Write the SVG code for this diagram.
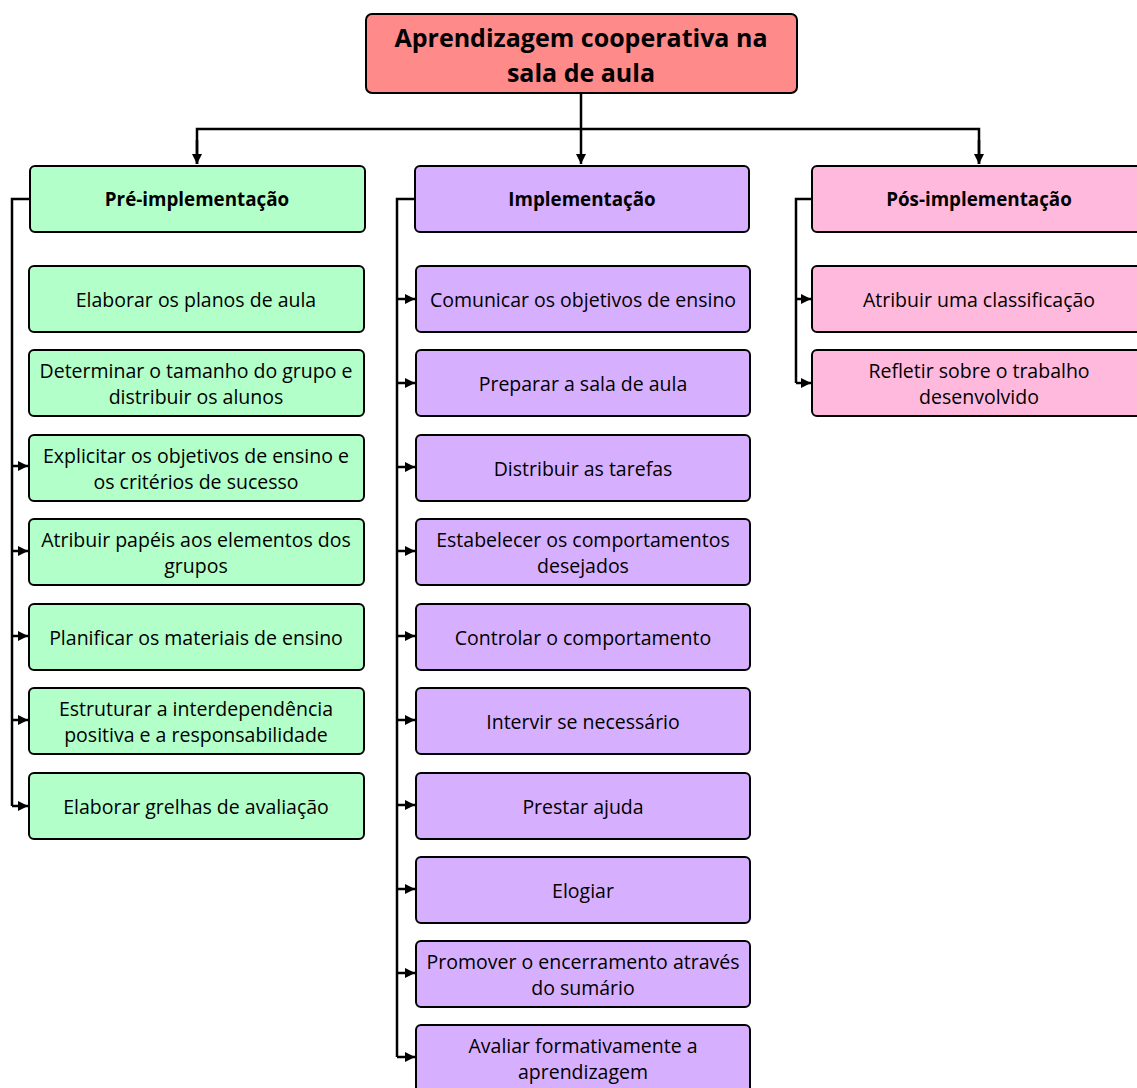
<svg xmlns="http://www.w3.org/2000/svg" width="1137" height="1088" viewBox="0 0 1137 1088">
<style>
.box{stroke:#000;stroke-width:2}
.root{fill:#FF8A8A}
.g{fill:#B3FFC9}
.p{fill:#D6AFFF}
.k{fill:#FFB9DC}
text{font-family:"Open Sans","Liberation Sans",sans-serif;fill:#000;text-anchor:middle;dominant-baseline:central}
.t{font-size:19.5px}
.h{font-size:18.8px;font-weight:bold}
.r{font-size:25px;font-weight:bold}
.c{fill:none;stroke:#000;stroke-width:2.5}
</style>
<defs>
<marker id="a" viewBox="0 0 10 10" refX="10" refY="5" markerWidth="4" markerHeight="4" orient="auto" markerUnits="strokeWidth">
<path d="M0,0 L10,5 L0,10 z" fill="#000"/>
</marker>
</defs>
<g id="connectors">
<path class="c" d="M581,93 V164" marker-end="url(#a)"/>
<path class="c" d="M197,164 V129 H979 V164" />
<path class="c" d="M197,140 V164" marker-end="url(#a)"/>
<path class="c" d="M979,140 V164" marker-end="url(#a)"/>
<path class="c" d="M30,199 H12 V806"/>
<path class="c" d="M12,466 H28" marker-end="url(#a)"/>
<path class="c" d="M12,551 H28" marker-end="url(#a)"/>
<path class="c" d="M12,636 H28" marker-end="url(#a)"/>
<path class="c" d="M12,720 H28" marker-end="url(#a)"/>
<path class="c" d="M12,806 H28" marker-end="url(#a)"/>
<path class="c" d="M415,199 H397 V1057"/>
<path class="c" d="M397,299 H415" marker-end="url(#a)"/>
<path class="c" d="M397,383 H415" marker-end="url(#a)"/>
<path class="c" d="M397,467 H415" marker-end="url(#a)"/>
<path class="c" d="M397,551 H415" marker-end="url(#a)"/>
<path class="c" d="M397,636 H415" marker-end="url(#a)"/>
<path class="c" d="M397,720 H415" marker-end="url(#a)"/>
<path class="c" d="M397,805 H415" marker-end="url(#a)"/>
<path class="c" d="M397,889 H415" marker-end="url(#a)"/>
<path class="c" d="M397,973 H415" marker-end="url(#a)"/>
<path class="c" d="M397,1057 H415" marker-end="url(#a)"/>
<path class="c" d="M812,199 H796 V383"/>
<path class="c" d="M796,299 H811" marker-end="url(#a)"/>
<path class="c" d="M796,383 H811" marker-end="url(#a)"/>
</g>
<g id="root"><rect class="box root" x="366" y="14" width="431" height="79" rx="6"/><text class="r" x="581" y="37">Aprendizagem cooperativa na</text><text class="r" x="581" y="72">sala de aula</text></g>
<g id="pre"><rect class="box g" x="30" y="166" width="335" height="66" rx="5"/><text class="h" x="197" y="199">Pré-implementação</text></g>
<g id="impl"><rect class="box p" x="415" y="166" width="334" height="66" rx="5"/><text class="h" x="582" y="199">Implementação</text></g>
<g id="pos"><rect class="box k" x="812" y="166" width="335" height="66" rx="5"/><text class="h" x="979" y="199">Pós-implementação</text></g>

<g id="pre1"><rect class="box g" x="29" y="266" width="335" height="66" rx="5"/><text class="t" x="196" y="299">Elaborar os planos de aula</text></g>
<g id="pre2"><rect class="box g" x="29" y="350" width="335" height="66" rx="5"/><text class="t" x="196" y="370">Determinar o tamanho do grupo e</text><text class="t" x="196" y="396">distribuir os alunos</text></g>
<g id="pre3"><rect class="box g" x="29" y="435" width="335" height="66" rx="5"/><text class="t" x="196" y="455">Explicitar os objetivos de ensino e</text><text class="t" x="196" y="481">os critérios de sucesso</text></g>
<g id="pre4"><rect class="box g" x="29" y="519" width="335" height="66" rx="5"/><text class="t" x="196" y="539">Atribuir papéis aos elementos dos</text><text class="t" x="196" y="565">grupos</text></g>
<g id="pre5"><rect class="box g" x="29" y="604" width="335" height="66" rx="5"/><text class="t" x="196" y="637">Planificar os materiais de ensino</text></g>
<g id="pre6"><rect class="box g" x="29" y="688" width="335" height="66" rx="5"/><text class="t" x="196" y="708">Estruturar a interdependência</text><text class="t" x="196" y="734">positiva e a responsabilidade</text></g>
<g id="pre7"><rect class="box g" x="29" y="773" width="335" height="66" rx="5"/><text class="t" x="196" y="806">Elaborar grelhas de avaliação</text></g>

<g id="imp1"><rect class="box p" x="416" y="266" width="334" height="66" rx="5"/><text class="t" x="583" y="299">Comunicar os objetivos de ensino</text></g>
<g id="imp2"><rect class="box p" x="416" y="350" width="334" height="66" rx="5"/><text class="t" x="583" y="383">Preparar a sala de aula</text></g>
<g id="imp3"><rect class="box p" x="416" y="435" width="334" height="66" rx="5"/><text class="t" x="583" y="468">Distribuir as tarefas</text></g>
<g id="imp4"><rect class="box p" x="416" y="519" width="334" height="66" rx="5"/><text class="t" x="583" y="539">Estabelecer os comportamentos</text><text class="t" x="583" y="565">desejados</text></g>
<g id="imp5"><rect class="box p" x="416" y="604" width="334" height="66" rx="5"/><text class="t" x="583" y="637">Controlar o comportamento</text></g>
<g id="imp6"><rect class="box p" x="416" y="688" width="334" height="66" rx="5"/><text class="t" x="583" y="721">Intervir se necessário</text></g>
<g id="imp7"><rect class="box p" x="416" y="773" width="334" height="66" rx="5"/><text class="t" x="583" y="806">Prestar ajuda</text></g>
<g id="imp8"><rect class="box p" x="416" y="857" width="334" height="66" rx="5"/><text class="t" x="583" y="890">Elogiar</text></g>
<g id="imp9"><rect class="box p" x="416" y="941" width="334" height="66" rx="5"/><text class="t" x="583" y="961">Promover o encerramento através</text><text class="t" x="583" y="987">do sumário</text></g>
<g id="imp10"><rect class="box p" x="416" y="1025" width="334" height="75" rx="5"/><text class="t" x="583" y="1045">Avaliar formativamente a</text><text class="t" x="583" y="1071">aprendizagem</text></g>

<g id="pos1"><rect class="box k" x="812" y="266" width="335" height="66" rx="5"/><text class="t" x="979" y="299">Atribuir uma classificação</text></g>
<g id="pos2"><rect class="box k" x="812" y="350" width="335" height="66" rx="5"/><text class="t" x="979" y="370">Refletir sobre o trabalho</text><text class="t" x="979" y="396">desenvolvido</text></g>
</svg>
